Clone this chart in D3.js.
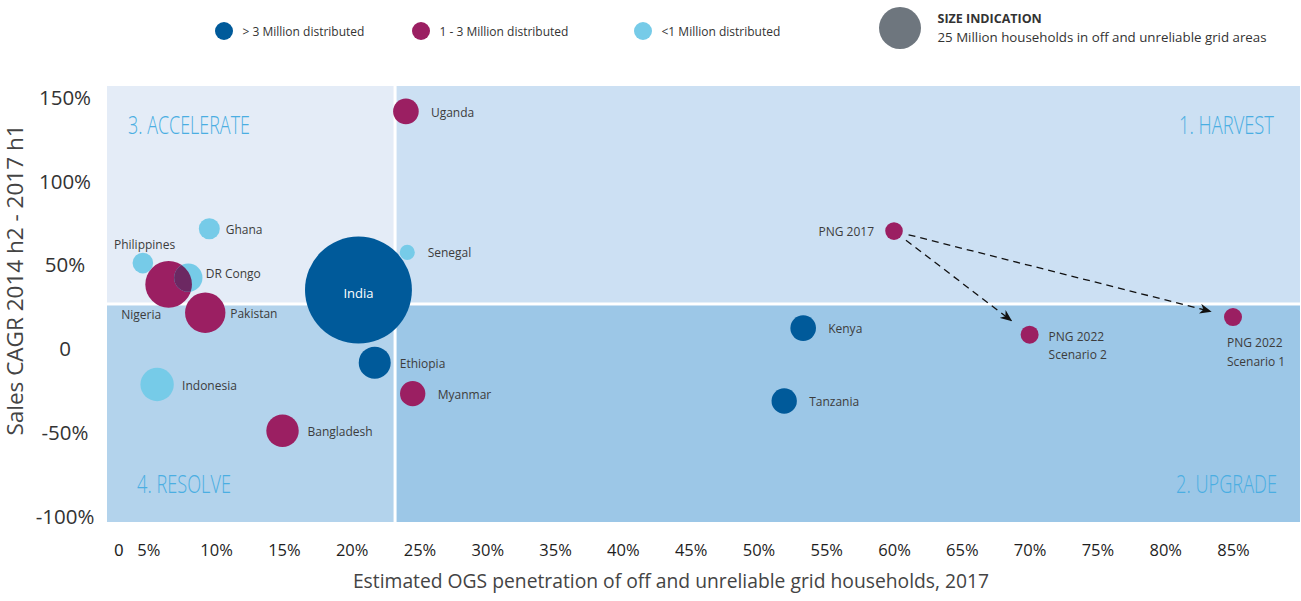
<!DOCTYPE html>
<html>
<head>
<meta charset="utf-8">
<script src="https://cdn.jsdelivr.net/npm/d3@7"></script>
<style>
  body { margin: 0; background: #fff; }
  svg { display: block; font-family: "Open Sans", "DejaVu Sans", sans-serif; }
</style>
</head>
<body>
<svg id="chart" width="1301" height="601"></svg>
<script>
// data
var countries = ["India", "Uganda", "Senegal", "Ghana", "Philippines", "Nigeria", "DR Congo",
  "Pakistan", "Ethiopia", "Indonesia", "Bangladesh", "Myanmar", "Kenya", "Tanzania",
  "PNG 2017", "PNG 2022 Scenario 2", "PNG 2022 Scenario 1"];
var penetration = [20.5, 24.0, 24.1, 9.5, 4.6, 6.5, 7.95, 9.2, 21.7, 5.65, 14.9, 24.5, 53.3, 51.9, 60, 70, 85];
var cagr = [34.8, 141.4, 57.3, 71.4, 50.9, 38.2, 42.2, 21.3, -8.5, -21.5, -49.1, -27.0, 12.1, -31.4, 70, 8.2, 18.7];
var households = [162, 9.3, 3.2, 6.25, 6.0, 30.8, 11.4, 23.1, 14.5, 15.8, 14.9, 9.1, 9.3, 9.1, 4.4, 4.6, 4.6];
var tier = ["high", "mid", "low", "low", "low", "mid", "low", "mid", "high", "low", "mid", "mid",
  "high", "high", "mid", "mid", "mid"];

var tierKeys = ["high", "mid", "low"];
var tierLabels = ["> 3 Million distributed", "1 - 3 Million distributed", "<1 Million distributed"];
var xTicks = [5, 10, 15, 20, 25, 30, 35, 40, 45, 50, 55, 60, 65, 70, 75, 80, 85];
var yTicks = [150, 100, 50, 0, -50, -100];
var quadrantNames = ["3. ACCELERATE", "1. HARVEST", "4. RESOLVE", "2. UPGRADE"];
var splitX = 23.2, splitY = 26.5;
var scenarioMoves = [["PNG 2017", "PNG 2022 Scenario 2"], ["PNG 2017", "PNG 2022 Scenario 1"]];
var sizeLegendValue = 25;

var colors = { high: "#005a9a", mid: "#9b1f62", low: "#76cbe8" };

var svg = d3.select("#chart");
var plot = { left: 107, right: 1300, top: 86, bottom: 522 };

var x = d3.scaleLinear().domain([0, 85]).range([80.5, 1233]);
var y = d3.scaleLinear().domain([-100, 150]).range([516, 97]);
var r = d3.scaleSqrt().domain([0, 25]).range([0, 21]);

// quadrants
var gap = 1.5;
var quads = [
  { x0: plot.left, x1: x(splitX) - gap, y0: plot.top, y1: y(splitY) - gap, fill: "#e4ecf7" },
  { x0: x(splitX) + gap, x1: plot.right, y0: plot.top, y1: y(splitY) - gap, fill: "#cce0f3" },
  { x0: plot.left, x1: x(splitX) - gap, y0: y(splitY) + gap, y1: plot.bottom, fill: "#b3d3ec" },
  { x0: x(splitX) + gap, x1: plot.right, y0: y(splitY) + gap, y1: plot.bottom, fill: "#9cc7e7" }
];

svg.append("g").selectAll("rect")
  .data(quads)
  .join("rect")
    .attr("x", function(d) { return d.x0; })
    .attr("y", function(d) { return d.y0; })
    .attr("width", function(d) { return d.x1 - d.x0; })
    .attr("height", function(d) { return d.y1 - d.y0; })
    .attr("fill", function(d) { return d.fill; });

// quadrant names, squeezed to a condensed look
var qText = svg.append("g")
  .attr("fill", "#4aaee2")
  .style("font-size", "25px")
  .style("font-weight", 300);
var qPos = [
  { x: 128, y: 133.5, anchor: "start", len: 122 },
  { x: 1274, y: 133.5, anchor: "end", len: 95 },
  { x: 137, y: 493, anchor: "start", len: 94 },
  { x: 1277, y: 493, anchor: "end", len: 101 }
];
quadrantNames.forEach(function(name, i) {
  var p = qPos[i];
  var t = qText.append("text").text(name);
  var natural = t.node().getComputedTextLength();
  var left = p.anchor === "end" ? p.x - p.len : p.x;
  t.attr("transform", "translate(" + left + "," + p.y + ") scale(" + (p.len / natural) + ",1)");
});

// axes
var xAxis = svg.append("g")
  .attr("transform", "translate(0," + 550 + ")")
  .call(d3.axisBottom(x).tickValues(xTicks).tickSize(0).tickPadding(0)
    .tickFormat(function(d) { return d + "%"; }));
xAxis.select(".domain").remove();
xAxis.selectAll("text")
  .attr("dy", "0.36em")
  .attr("fill", "#1e1e1e")
  .style("font-family", "'Open Sans', sans-serif")
  .style("font-size", "16.5px");
xAxis.append("text")
  .attr("x", x(2.83))
  .attr("dy", "0.36em")
  .attr("text-anchor", "middle")
  .attr("fill", "#1e1e1e")
  .style("font-size", "16.5px")
  .text("0");

var yAxis = svg.append("g")
  .attr("transform", "translate(" + 65 + ",0)")
  .call(d3.axisLeft(y).tickValues(yTicks).tickSize(0).tickPadding(0)
    .tickFormat(function(d) { return d === 0 ? "0" : d + "%"; }));
yAxis.select(".domain").remove();
yAxis.selectAll("text")
  .attr("text-anchor", "middle")
  .attr("dy", "0.36em")
  .attr("fill", "#333")
  .style("font-family", "'Open Sans', sans-serif")
  .style("font-size", "20.5px");

svg.append("text")
  .attr("x", 671)
  .attr("y", 588)
  .attr("text-anchor", "middle")
  .attr("fill", "#444")
  .style("font-size", "19.3px")
  .text("Estimated OGS penetration of off and unreliable grid households, 2017");

svg.append("text")
  .attr("transform", "translate(22.5,280) rotate(-90)")
  .attr("text-anchor", "middle")
  .attr("fill", "#444")
  .style("font-size", "22.5px")
  .text("Sales CAGR 2014 h2 - 2017 h1");

// bubbles
var rows = countries.map(function(name, i) {
  return { name: name, px: penetration[i], g: cagr[i], hh: households[i], tier: tier[i] };
});
function byName(n) { return rows.find(function(d) { return d.name === n; }); }

var bubbles = svg.append("g");
bubbles.selectAll("circle")
  .data(rows)
  .join("circle")
    .attr("cx", function(d) { return x(d.px); })
    .attr("cy", function(d) { return y(d.g); })
    .attr("r", function(d) { return r(d.hh); })
    .attr("fill", function(d) { return colors[d.tier]; });

// darker overlap of Nigeria and DR Congo
var congo = byName("DR Congo"), nigeria = byName("Nigeria");
svg.append("clipPath").attr("id", "congo-clip")
  .append("circle")
    .attr("cx", x(congo.px)).attr("cy", y(congo.g)).attr("r", r(congo.hh));
svg.append("circle")
  .attr("clip-path", "url(#congo-clip)")
  .attr("cx", x(nigeria.px)).attr("cy", y(nigeria.g)).attr("r", r(nigeria.hh))
  .attr("fill", "#6c2862");

// arrows between PNG points
svg.append("defs").append("marker")
  .attr("id", "head")
  .attr("viewBox", "0 0 12 10")
  .attr("refX", 11).attr("refY", 5)
  .attr("markerWidth", 12).attr("markerHeight", 10)
  .attr("markerUnits", "userSpaceOnUse")
  .attr("orient", "auto")
  .append("path")
    .attr("d", "M0,0 L12,5 L0,10 L3.5,5 Z")
    .attr("fill", "#111");

scenarioMoves.forEach(function(m) {
  var a = byName(m[0]), b = byName(m[1]);
  var x0 = x(a.px), y0 = y(a.g), x1 = x(b.px), y1 = y(b.g);
  var len = Math.hypot(x1 - x0, y1 - y0), ux = (x1 - x0) / len, uy = (y1 - y0) / len;
  svg.append("line")
    .attr("x1", x0 + ux * 15).attr("y1", y0 + uy * 15)
    .attr("x2", x1 - ux * 23).attr("y2", y1 - uy * 23)
    .attr("stroke", "#111")
    .attr("stroke-width", 1.3)
    .attr("stroke-dasharray", "7,5")
    .attr("marker-end", "url(#head)");
});

// labels
var labelPlace = {
  "India": { dx: 0, dy: 3.6, anchor: "middle", fill: "#fff", size: 13 },
  "Senegal": { dx: 20.4, dy: 0 },
  "Ghana": { dx: 16.4, dy: 1 },
  "Philippines": { dx: 1.7, dy: -18, anchor: "middle" },
  "DR Congo": { dx: 17.4, dy: -3.6 },
  "Nigeria": { dx: -27.5, dy: 30, anchor: "middle" },
  "PNG 2017": { dx: -20, dy: 1, anchor: "end" },
  "PNG 2022 Scenario 2": { dx: 19, dy: 1.7, lines: ["PNG 2022", "Scenario 2"] },
  "PNG 2022 Scenario 1": { dx: -6, dy: 25.6, lines: ["PNG 2022", "Scenario 1"] }
};

var labels = svg.append("g").style("font-size", "12px");
rows.forEach(function(d) {
  var p = labelPlace[d.name] || { dx: 25, dy: 1 };
  var t = labels.append("text")
    .attr("x", x(d.px) + p.dx)
    .attr("y", y(d.g) + p.dy)
    .attr("dy", "0.36em")
    .attr("text-anchor", p.anchor || "start")
    .attr("fill", p.fill || "#3c3c3c")
    .style("font-size", (p.size || 12) + "px");
  if (p.lines) {
    p.lines.forEach(function(line, k) {
      t.append("tspan")
        .attr("x", x(d.px) + p.dx)
        .attr("dy", k === 0 ? "0.36em" : "1.55em")
        .text(line);
    });
    t.attr("dy", null);
  } else {
    t.text(d.name);
  }
});

// legend
var legend = svg.append("g");
var legendX = [224, 421, 643];
tierKeys.forEach(function(k, i) {
  legend.append("circle")
    .attr("cx", legendX[i]).attr("cy", 31).attr("r", 9)
    .attr("fill", colors[k]);
  legend.append("text")
    .attr("x", legendX[i] + 18.5).attr("y", 32)
    .attr("dy", "0.36em")
    .attr("fill", "#333")
    .style("font-size", "12px")
    .text(tierLabels[i]);
});

legend.append("circle")
  .attr("cx", 900).attr("cy", 28).attr("r", r(sizeLegendValue))
  .attr("fill", "#6e767e");
legend.append("text")
  .attr("x", 937.5).attr("y", 18)
  .attr("dy", "0.36em")
  .attr("fill", "#333")
  .style("font-size", "12.5px")
  .style("font-weight", 700)
  .text("SIZE INDICATION");
legend.append("text")
  .attr("x", 937.5).attr("y", 37.5)
  .attr("dy", "0.36em")
  .attr("fill", "#333")
  .style("font-size", "13.3px")
  .text(sizeLegendValue + " Million households in off and unreliable grid areas");
</script>
</body>
</html>
